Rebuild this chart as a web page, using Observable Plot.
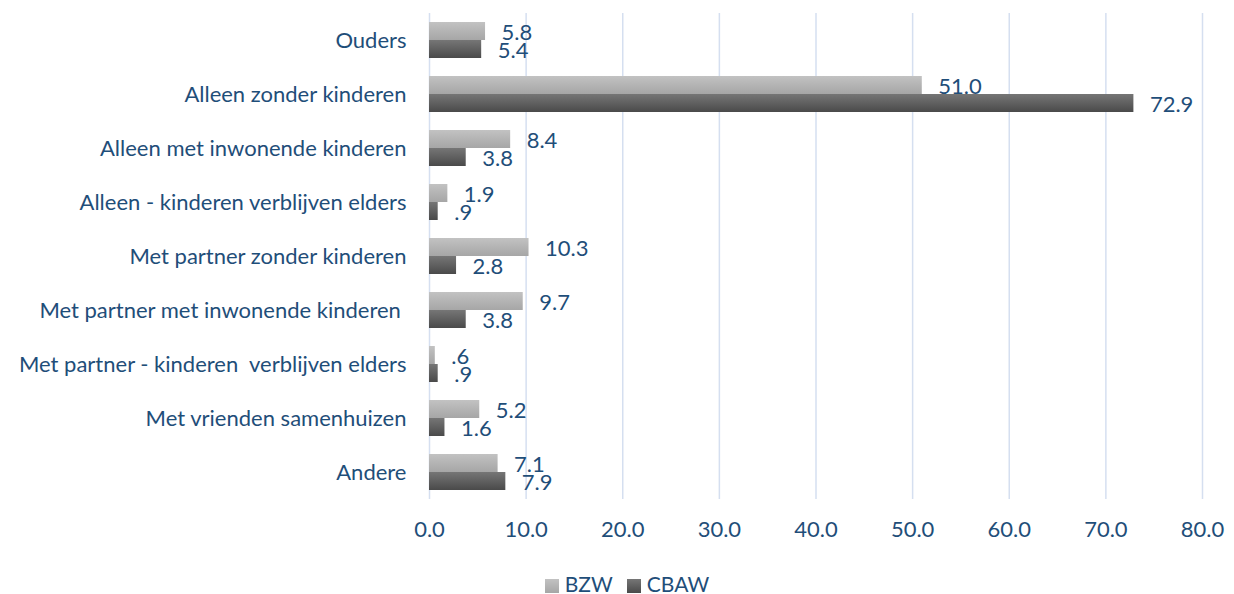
<!DOCTYPE html>
<html><head><meta charset="utf-8">
<script src="https://cdn.jsdelivr.net/npm/d3@7"></script>
<script src="https://cdn.jsdelivr.net/npm/@observablehq/plot@0.6"></script>
<style>
body{margin:0;background:#fff;font-family:Lato,sans-serif;}
#legend{height:28px;line-height:36px;font-size:21px;color:#1f4e79;display:flex;justify-content:center;padding-left:34px;}
.sw{display:inline-block;width:14px;height:14px;vertical-align:-1px;margin-right:6px;}
.it{margin-right:14px;}
svg text{white-space:pre;}
</style></head>
<body>
<div id="chart"></div>
<div id="legend"></div>
<script>
const categories = ["Ouders","Alleen zonder kinderen","Alleen met inwonende kinderen","Alleen - kinderen verblijven elders","Met partner zonder kinderen","Met partner met inwonende kinderen ","Met partner - kinderen  verblijven elders","Met vrienden samenhuizen","Andere"];
const seriesNames = ["BZW","CBAW"];
const bzw = [5.8,51.0,8.4,1.9,10.3,9.7,0.6,5.2,7.1];
const cbaw = [5.4,72.9,3.8,0.9,2.8,3.8,0.9,1.6,7.9];
const xTicks = [0,10,20,30,40,50,60,70,80];

const textColor = "#1f4e79";
const rows = categories.map((c,i)=>({cat:c, bzw:bzw[i], cbaw:cbaw[i]}));
const fmt = v => d3.format(".1f")(v).replace(/^0\./,".");

const defs = () => {
  const ns="http://www.w3.org/2000/svg";
  const d=document.createElementNS(ns,"defs");
  d.innerHTML = `<linearGradient id="gBZW" x1="0" y1="0" x2="0" y2="1"><stop offset="0" stop-color="#c2c2c2"/><stop offset="1" stop-color="#a6a6a6"/></linearGradient>
  <linearGradient id="gCBAW" x1="0" y1="0" x2="0" y2="1"><stop offset="0" stop-color="#767676"/><stop offset="1" stop-color="#4a4a4a"/></linearGradient>`;
  return d;
};

const chart = Plot.plot({
  width:1234, height:566,
  marginLeft:429, marginRight:32, marginTop:13, marginBottom:67,
  style:{fontFamily:"Lato, sans-serif", fontSize:"22px", color:textColor, background:"#fff"},
  x:{domain:[0,80], ticks:xTicks, tickFormat:d3.format(".1f"), tickSize:0, tickPadding:22, label:null},
  y:{domain:categories, padding:0, tickSize:0, tickPadding:23, label:null},
  marks:[
    defs,
    Plot.ruleX(xTicks,{stroke:"#d5dff0", strokeWidth:1.5}),
    Plot.barX(rows,{y:"cat", x:"bzw", fill:"url(#gBZW)", insetTop:9, insetBottom:27}),
    Plot.barX(rows,{y:"cat", x:"cbaw", fill:"url(#gCBAW)", insetTop:27, insetBottom:9}),
    Plot.text(rows,{y:"cat", x:"bzw", text:d=>fmt(d.bzw), dx:16, dy:-8, textAnchor:"start", fill:textColor}),
    Plot.text(rows,{y:"cat", x:"cbaw", text:d=>fmt(d.cbaw), dx:16, dy:10.5, textAnchor:"start", fill:textColor})
  ]
});
document.getElementById("chart").appendChild(chart);

const lg = document.getElementById("legend");
lg.innerHTML = `<span class="it"><span class="sw" style="background:linear-gradient(#c2c2c2,#a6a6a6)"></span>${seriesNames[0]}</span><span class="it"><span class="sw" style="background:linear-gradient(#767676,#4a4a4a)"></span>${seriesNames[1]}</span>`;
</script>
</body></html>
